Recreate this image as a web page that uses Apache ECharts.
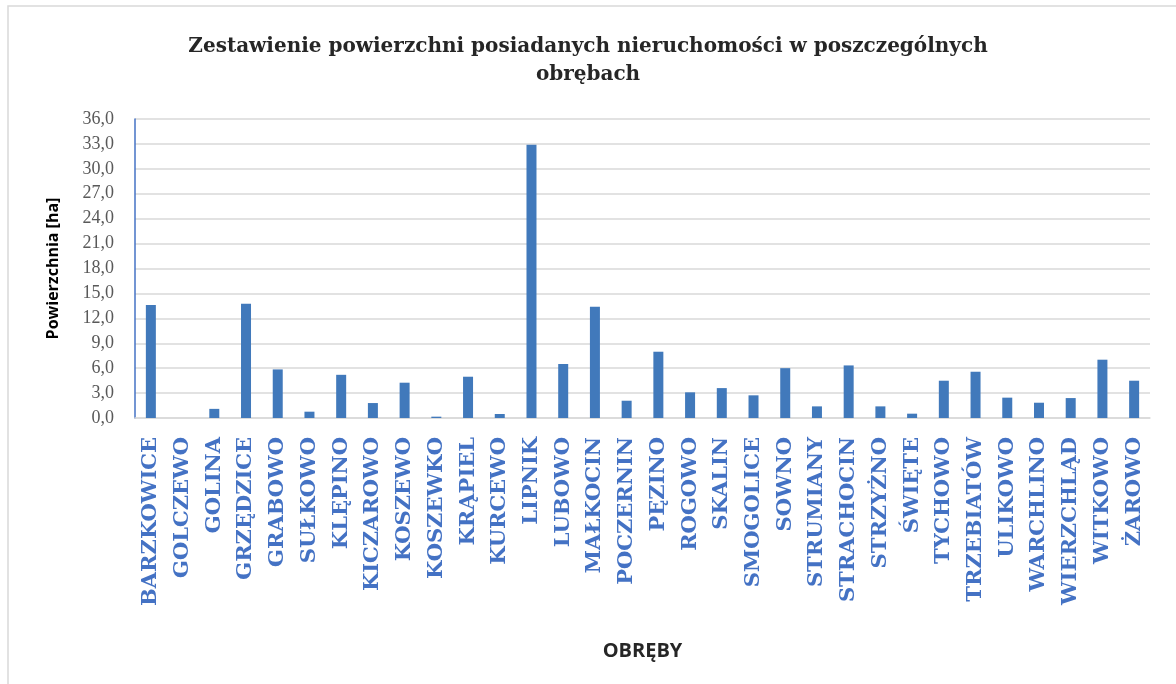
<!DOCTYPE html>
<html>
<head>
<meta charset="utf-8">
<script src="https://cdn.jsdelivr.net/npm/echarts@6/dist/echarts.min.js"></script>
<style>
html,body{margin:0;padding:0;background:#fff;}
#chart{width:1176px;height:684px;}
</style>
</head>
<body>
<div id="chart"></div>
<script>
var obreby = ['BARZKOWICE','GOLCZEWO','GOLINA','GRZĘDZICE','GRABOWO','SUŁKOWO','KLĘPINO','KICZAROWO',
	'KOSZEWO','KOSZEWKO','KRĄPIEL','KURCEWO','LIPNIK','LUBOWO','MAŁKOCIN','POCZERNIN',
	'PĘZINO','ROGOWO','SKALIN','SMOGOLICE','SOWNO','STRUMIANY','STRACHOCIN','STRZYŻNO',
	'ŚWIĘTE','TYCHOWO','TRZEBIATÓW','ULIKOWO','WARCHLINO','WIERZCHLĄD','WITKOWO','ŻAROWO'];
var powierzchnia = [13.6,0,1.1,13.75,5.85,0.76,5.2,1.8,
	4.25,0.16,4.97,0.48,32.9,6.5,13.4,2.08,
	7.98,3.09,3.6,2.73,6.0,1.4,6.33,1.4,
	0.52,4.49,5.57,2.45,1.84,2.4,7.02,4.49];
var tytul = 'Zestawienie powierzchni posiadanych nieruchomości w poszczególnych\nobrębach';

var chart = echarts.init(document.getElementById('chart'));
var option = {
	animation:false,
	backgroundColor:'#ffffff',
	graphic:[{
		type:'rect',
		shape:{x:8,y:6,width:1200,height:700},
		style:{fill:'none',stroke:'#d9d9d9',lineWidth:1.5},
		silent:true
	}],
	title:{
		text:tytul,
		left:'center',
		top:28,
		textStyle:{
			fontFamily:'DejaVu Serif',
			fontWeight:'bold',
			fontSize:20,
			color:'#262626',
			lineHeight:28
		}
	},
	grid:{left:135,right:26,top:119,bottom:266},
	xAxis:{
		type:'category',
		data:obreby,
		name:'OBRĘBY',
		nameLocation:'middle',
		nameGap:223,
		nameTextStyle:{fontFamily:'Open Sans',fontWeight:'bold',fontSize:20,color:'#262626'},
		axisLine:{lineStyle:{color:'#d9d9d9',width:1.5}},
		axisTick:{show:false},
		axisLabel:{
			interval:0,
			rotate:90,
			margin:19,
			fontFamily:'DejaVu Serif',
			fontWeight:'bold',
			fontSize:21,
			color:'#4472c4'
		}
	},
	yAxis:{
		type:'value',
		min:0,
		max:36,
		interval:3,
		name:'Powierzchnia [ha]',
		nameLocation:'middle',
		nameGap:74,
		nameTextStyle:{fontFamily:'Open Sans',fontWeight:'bold',fontSize:16,color:'#000000'},
		axisLine:{show:true,lineStyle:{color:'#4472c4',width:1.5}},
		axisTick:{show:false},
		splitLine:{lineStyle:{color:'#d9d9d9',width:1.5}},
		axisLabel:{
			margin:21,
			fontFamily:'Liberation Serif',
			fontSize:18,
			color:'#595959',
			formatter:function(v){return v.toFixed(1).replace('.',',');}
		}
	},
	series:[{
		type:'bar',
		data:powierzchnia,
		barWidth:10,
		itemStyle:{color:'#4179bb'}
	}]
};
chart.setOption(option);
</script>
</body>
</html>
